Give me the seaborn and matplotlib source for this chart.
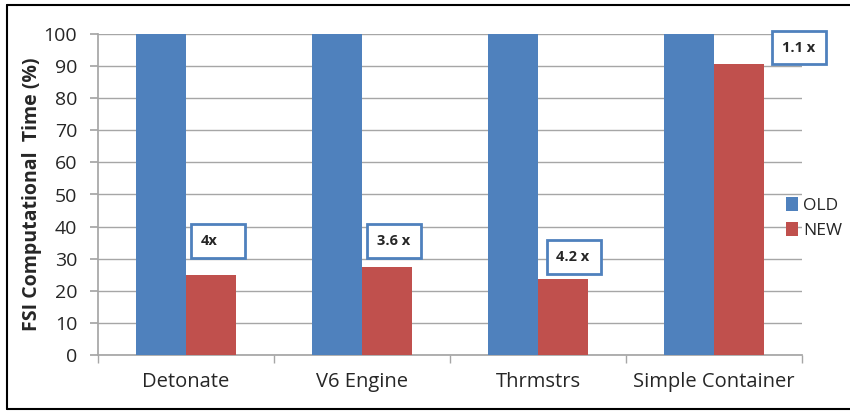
import matplotlib
matplotlib.use("Agg")
import matplotlib.pyplot as plt
import seaborn as sns
import pandas as pd
from matplotlib.patches import Rectangle
from matplotlib.lines import Line2D

categories = ["Detonate", "V6 Engine", "Thrmstrs", "Simple Container"]
old_values = [100, 100, 100, 100]
new_values = [25, 27.4, 23.6, 90.6]
speedup_labels = ["4x", "3.6 x", "4.2 x", "1.1 x"]
speedup_x_offsets = [0.03, 0.03, 0.05, 0.33]
speedup_box_bottoms = [30.3, 30.3, 25.2, 90.5]
series_names = ["OLD", "NEW"]
colors = ["#4F81BD", "#C0504D"]

df = pd.DataFrame({
    "category": categories * 2,
    "value": old_values + new_values,
    "series": [series_names[0]] * len(categories) + [series_names[1]] * len(categories),
})

sns.set_theme(style="white")
plt.rcParams["font.family"] = ["Open Sans", "DejaVu Sans"]

fig = plt.figure(figsize=(8.5, 4.11), dpi=100)
ax = fig.add_axes([98 / 850, 56 / 411, 704 / 850, 321 / 411])

sns.barplot(data=df, x="category", y="value", hue="series", palette=colors,
            width=0.57, ax=ax, saturation=1, edgecolor="none", zorder=3)

ax.set_ylim(0, 100)
ax.set_xlim(-0.5, len(categories) - 0.5)
ax.set_yticks(range(0, 101, 10))
ax.yaxis.grid(True, color="#A6A6A6", linewidth=1.0, zorder=0)
ax.set_axisbelow(True)
for s in ["top", "right"]:
    ax.spines[s].set_visible(False)
ax.spines["left"].set_color("#A6A6A6")
ax.spines["bottom"].set_color("#A6A6A6")
ax.tick_params(axis="y", labelsize=14, length=6, color="#A6A6A6", left=True, pad=9)
ax.tick_params(axis="x", labelsize=14.5, length=0, pad=12)
ax.set_xticks(range(len(categories)))
ax.set_xticklabels(categories)
# category-boundary tick marks
ax.set_xticks([i - 0.5 for i in range(len(categories) + 1)], minor=True)
ax.tick_params(axis="x", which="minor", length=6, color="#A6A6A6", bottom=True)
ax.set_xlabel("")
ax.set_ylabel("FSI Computational  Time (%)", fontsize=14, fontweight="bold", labelpad=1)

# speedup boxes
box_w = 54 / 176
box_h = 10.5
for i, (lab, dx, yb) in enumerate(zip(speedup_labels, speedup_x_offsets, speedup_box_bottoms)):
    x0 = i + dx
    rect = Rectangle((x0, yb), box_w, box_h, facecolor="white", edgecolor="#4F81BD",
                     linewidth=2, clip_on=False, zorder=5)
    ax.add_patch(rect)
    ax.text(x0 + 0.055, yb + box_h / 2, lab, fontsize=10.5, fontweight="bold",
            ha="left", va="center", zorder=6, clip_on=False)

# legend
ax.get_legend().remove()
handles = [Rectangle((0, 0), 1, 1, facecolor=c, edgecolor="none") for c in colors]
fig.legend(handles, series_names, loc="center left", bbox_to_anchor=(786 / 850, 1 - 218 / 411),
           frameon=False, fontsize=12.5, handlelength=0.7, handleheight=0.85,
           handletextpad=0.3, labelspacing=0.45, borderpad=0, borderaxespad=0)

# outer border (left, top, bottom)
fig.add_artist(Line2D([7 / 850, 7 / 850], [1 - 5 / 411, 1 - 409 / 411], color="black", lw=1.5, transform=fig.transFigure))
fig.add_artist(Line2D([7 / 850, 1.0], [1 - 5 / 411, 1 - 5 / 411], color="black", lw=1.5, transform=fig.transFigure))
fig.add_artist(Line2D([7 / 850, 1.0], [1 - 409 / 411, 1 - 409 / 411], color="black", lw=1.5, transform=fig.transFigure))

fig.savefig("out.png", dpi=100)
